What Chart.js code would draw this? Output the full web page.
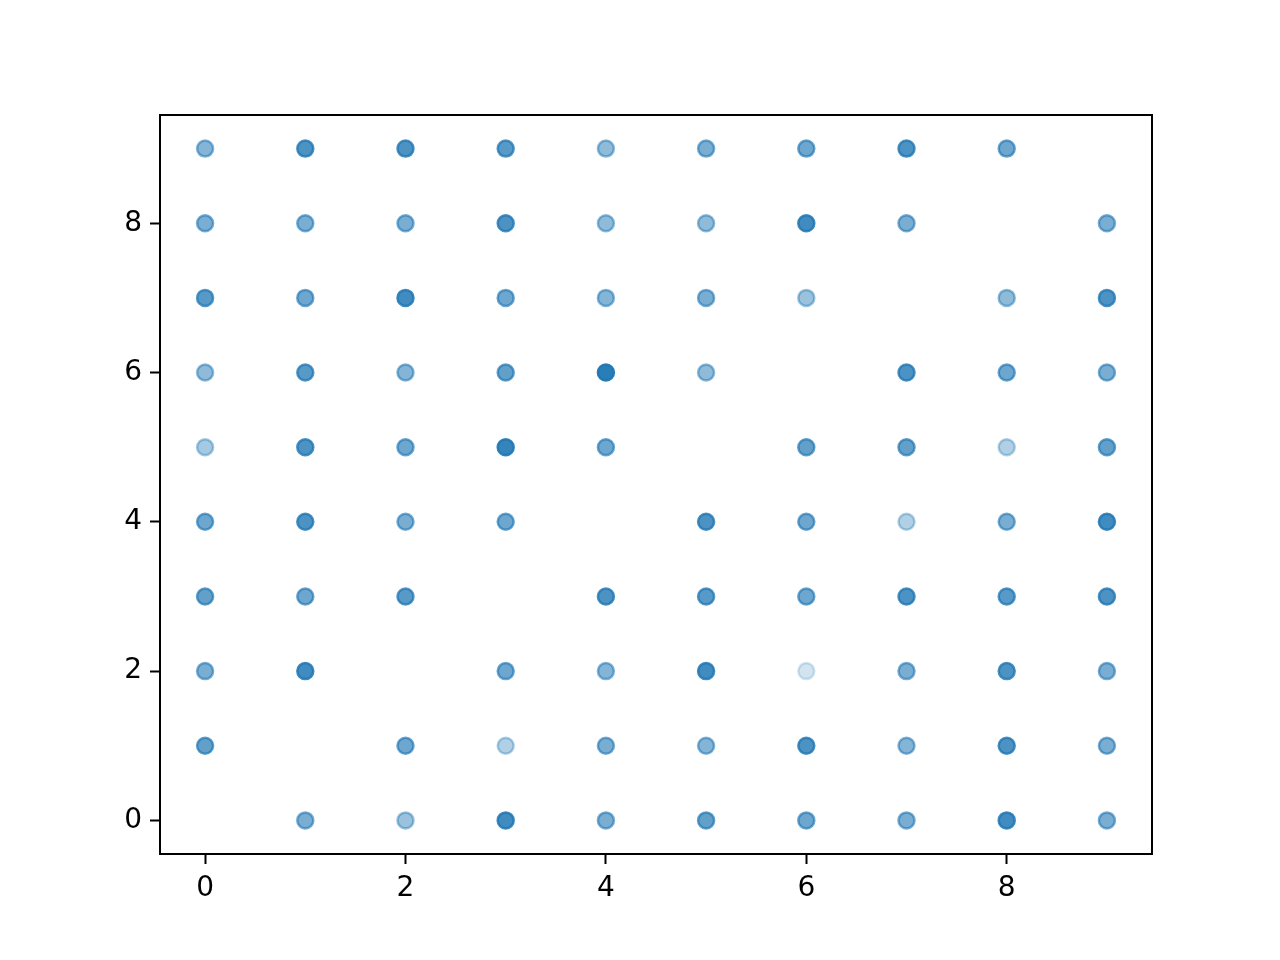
<!DOCTYPE html>
<html>
<head>
<meta charset="utf-8">
<script src="https://cdn.jsdelivr.net/npm/chart.js@4/dist/chart.umd.min.js"></script>
<style>
  body { margin: 0; background: #fff; }
  #grafica { display: block; }
</style>
</head>
<body>
<canvas id="grafica" width="1280" height="960"></canvas>
<script>
  // columnas x = 0..9, filas y = 9..0 ; null = sin punto
  const xValues = [0, 1, 2, 3, 4, 5, 6, 7, 8, 9];
  const yValues = [9, 8, 7, 6, 5, 4, 3, 2, 1, 0];
  const tickValues = [0, 2, 4, 6, 8];

  const row9 = [0.55, 0.8, 0.8, 0.75, 0.5, 0.6, 0.65, 0.8, 0.65, null];
  const row8 = [0.6, 0.6, 0.6, 0.8, 0.5, 0.5, 0.85, 0.6, null, 0.6];
  const row7 = [0.75, 0.65, 0.85, 0.65, 0.55, 0.6, 0.45, null, 0.5, 0.8];
  const row6 = [0.5, 0.75, 0.55, 0.7, 0.95, 0.5, null, 0.8, 0.65, 0.6];
  const row5 = [0.4, 0.8, 0.65, 0.9, 0.65, null, 0.7, 0.7, 0.35, 0.7];
  const row4 = [0.65, 0.8, 0.6, 0.65, null, 0.8, 0.65, 0.35, 0.6, 0.85];
  const row3 = [0.7, 0.65, 0.75, null, 0.8, 0.75, 0.65, 0.8, 0.75, 0.8];
  const row2 = [0.6, 0.85, null, 0.65, 0.55, 0.85, 0.2, 0.6, 0.8, 0.6];
  const row1 = [0.7, null, 0.65, 0.35, 0.6, 0.55, 0.8, 0.55, 0.8, 0.6];
  const row0 = [null, 0.6, 0.45, 0.85, 0.6, 0.7, 0.65, 0.6, 0.85, 0.6];
  const rows = [row9, row8, row7, row6, row5, row4, row3, row2, row1, row0];

  const puntos = [];
  const colores = [];
  rows.forEach((fila, i) => {
    fila.forEach((a, j) => {
      if (a === null) return;
      puntos.push({ x: xValues[j], y: yValues[i] });
      colores.push("rgba(31,119,180," + a + ")");
    });
  });

  const marco = {
    id: "marco",
    afterDraw(chart) {
      const { ctx, chartArea: c } = chart;
      ctx.save();
      ctx.strokeStyle = "#000";
      ctx.lineWidth = 2;
      ctx.strokeRect(c.left, c.top, c.right - c.left, c.bottom - c.top);
      ctx.restore();
    },
  };

  const eje = (size) => ({
    type: "linear",
    min: -0.45,
    max: 9.45,
    afterBuildTicks: (axis) => {
      axis.ticks = tickValues.map((v) => ({ value: v }));
    },
    afterFit: (axis) => {
      if (axis.isHorizontal()) axis.height = size;
      else axis.width = size;
    },
    grid: {
      drawOnChartArea: false,
      drawTicks: true,
      tickLength: 10,
      tickColor: "#000",
      tickWidth: 2,
    },
    border: { display: true, color: "#000", width: 2 },
    ticks: {
      color: "#000",
      padding: 8,
      font: { family: "DejaVu Sans", size: 28 },
    },
  });

  new Chart(document.getElementById("grafica"), {
    type: "scatter",
    data: {
      datasets: [
        {
          data: puntos,
          pointRadius: 8,
          pointHoverRadius: 8,
          borderWidth: 2.5,
          pointBackgroundColor: colores,
          pointBorderColor: colores,
        },
      ],
    },
    options: {
      responsive: false,
      animation: false,
      layout: { padding: { top: 115, right: 128, left: 0, bottom: 0 } },
      scales: {
        x: eje(106),
        y: eje(160),
      },
      plugins: {
        legend: { display: false },
        tooltip: { enabled: false },
      },
    },
    plugins: [marco],
  });
</script>
</body>
</html>
